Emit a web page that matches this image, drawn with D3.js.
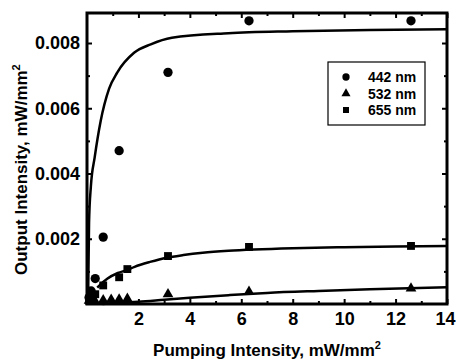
<!DOCTYPE html>
<html>
<head>
<meta charset="utf-8">
<script src="https://cdn.jsdelivr.net/npm/d3@7"></script>
<style>
    body { margin: 0; background: #fff; }
    svg { display: block; font-family: "Liberation Sans", Arial, sans-serif; }
    .tickLabels text { font-size: 18px; font-weight: bold; }
</style>
</head>
<body>
<div id="chart"></div>
<script>
// measured points, 442 nm (circles)
const pump442 = [0.08, 0.16, 0.32, 0.63, 1.25, 3.15, 6.3, 12.6];
const out442 = [0.0002, 0.0004, 0.00078, 0.00205, 0.0047, 0.0071, 0.00868, 0.00868];

// 532 nm (triangles)
const pump532 = [0.08, 0.16, 0.32, 0.63, 0.94, 1.25, 1.57, 3.15, 6.3, 12.6];
const out532 = [0.0001, 0.00012, 0.00008, 0.00012, 0.00013, 0.00014, 0.00016, 0.0003, 0.00038, 0.00048];

// 655 nm (squares)
const pump655 = [0.08, 0.16, 0.32, 0.63, 1.25, 1.57, 3.15, 6.3, 12.6];
const out655 = [0.0001, 0.0002, 0.0003, 0.00057, 0.00082, 0.00107, 0.00147, 0.00175, 0.00178];

// fitted curves
const fitX442 = [0.04, 0.08, 0.15, 0.3, 0.53, 0.86, 1.18, 1.83, 2.48, 3.3, 5.5, 8, 11, 14];
const fitY442 = [0, 0.0025, 0.0036, 0.0045, 0.0056, 0.0066, 0.0071, 0.0077, 0.00796, 0.00816, 0.0083, 0.00836, 0.0084, 0.00842];
const fitX655 = [0.4, 0.5, 0.8, 1.2, 1.55, 1.85, 2.45, 3.1, 3.75, 4.5, 5.5, 6.5, 8, 10, 12, 14];
const fitY655 = [0.0005, 0.00058, 0.00078, 0.00095, 0.00104, 0.00114, 0.00129, 0.00142, 0.0015, 0.00157, 0.00163, 0.00167, 0.00171, 0.00174, 0.00176, 0.00178];
const fitX532 = [0.6, 1, 2, 3, 4, 5.5, 7, 9, 11, 14];
const fitY532 = [0, 0.00003, 0.00007, 0.00013, 0.00019, 0.00027, 0.00034, 0.0004, 0.00045, 0.00051];

// ticks
const xMajor = [2, 4, 6, 8, 10, 12, 14];
const xMinor = [1, 3, 5, 7, 9, 11, 13];
const yMajor = [0.002, 0.004, 0.006, 0.008];
const yMinor = [0.001, 0.003, 0.005, 0.007];

const legendLabels = ['442 nm', '532 nm', '655 nm'];
const legendShapes = ['circle', 'triangle', 'square'];

function outputChart() {
    const W = 456, H = 360;
    const margin = {top: 13, right: 9, bottom: 56, left: 87};
    const width = W - margin.left - margin.right;
    const height = H - margin.top - margin.bottom;

    const svg = d3.select("#chart")
        .append("svg")
        .attr("width", W)
        .attr("height", H)
        .append("g")
        .attr("transform", `translate(${margin.left}, ${margin.top})`);

    const x = d3.scaleLinear().domain([0, 14]).range([0, width]);
    const y = d3.scaleLinear().domain([0, 0.00892]).range([height, 0]);

    // axes - ticks point inward
    const xAxisG = svg.append("g").attr("class", "tickLabels")
        .attr("transform", `translate(0, ${height})`)
        .call(d3.axisBottom(x).tickValues(xMajor).tickSize(-5).tickPadding(8).tickFormat(d3.format("d")));
    // last label would run off the page, pull it in a little
    xAxisG.selectAll(".tick text").filter(d => d == 14)
        .attr("text-anchor", "end")
        .attr("x", margin.right - 1);
    svg.append("g")
        .attr("transform", `translate(0, ${height})`)
        .call(d3.axisBottom(x).tickValues(xMinor).tickSize(-3).tickFormat(''));
    svg.append("g")
        .call(d3.axisTop(x).tickValues(xMajor).tickSize(-5).tickFormat(''));
    svg.append("g")
        .call(d3.axisTop(x).tickValues(xMinor).tickSize(-3).tickFormat(''));

    svg.append("g").attr("class", "tickLabels")
        .call(d3.axisLeft(y).tickValues(yMajor).tickSize(-5).tickPadding(7).tickFormat(d3.format(".3f")));
    svg.append("g")
        .call(d3.axisLeft(y).tickValues(yMinor).tickSize(-3).tickFormat(''));
    svg.append("g")
        .attr("transform", `translate(${width}, 0)`)
        .call(d3.axisRight(y).tickValues(yMajor).tickSize(-5).tickFormat(''));
    svg.append("g")
        .attr("transform", `translate(${width}, 0)`)
        .call(d3.axisRight(y).tickValues(yMinor).tickSize(-3).tickFormat(''));

    svg.selectAll(".domain").remove();
    svg.selectAll(".tick line").attr("stroke", "#000").attr("stroke-width", 2);
    svg.selectAll(".tick text").attr("fill", "#000");

    // fitted curves
    const line = d3.line().x(d => x(d[0])).y(d => y(d[1])).curve(d3.curveMonotoneX);
    const fits = [
        d3.zip(fitX442, fitY442),
        d3.zip(fitX532, fitY532),
        d3.zip(fitX655, fitY655)
    ];
    svg.selectAll(".fitLine")
        .data(fits)
        .join("path")
        .attr("class", "fitLine")
        .attr("d", line)
        .attr("fill", "none")
        .attr("stroke", "#000")
        .attr("stroke-width", 2.5);

    // markers
    const symbolFor = {
        circle: d3.symbol().type(d3.symbolCircle).size(68),
        triangle: d3.symbol().type(d3.symbolTriangle).size(50),
        square: d3.symbol().type(d3.symbolSquare).size(62)
    };
    const series = [
        {shape: 'circle', pts: d3.zip(pump442, out442)},
        {shape: 'triangle', pts: d3.zip(pump532, out532)},
        {shape: 'square', pts: d3.zip(pump655, out655)}
    ];
    series.forEach(function(s) {
        svg.selectAll(".pt-" + s.shape)
            .data(s.pts)
            .join("path")
            .attr("class", "pt-" + s.shape)
            .attr("transform", d => `translate(${x(d[0])}, ${y(d[1])})`)
            .attr("d", symbolFor[s.shape]())
            .attr("fill", "#000");
    });

    // frame
    svg.append("rect")
        .attr("width", width)
        .attr("height", height)
        .attr("fill", "none")
        .attr("stroke", "#000")
        .attr("stroke-width", 3);

    // legend
    const legend = svg.append("g").attr("transform", `translate(${328 - margin.left}, ${62 - margin.top})`);
    legend.append("rect")
        .attr("width", 97)
        .attr("height", 63)
        .attr("fill", "#fff")
        .attr("stroke", "#000")
        .attr("stroke-width", 1.2);
    const legendSym = {
        circle: d3.symbol().type(d3.symbolCircle).size(42),
        triangle: d3.symbol().type(d3.symbolTriangle).size(36),
        square: d3.symbol().type(d3.symbolSquare).size(36)
    };
    legendLabels.forEach(function(lab, i) {
        const ly = 15 + i * 16.5;
        legend.append("path")
            .attr("transform", `translate(18, ${ly})`)
            .attr("d", legendSym[legendShapes[i]]())
            .attr("fill", "#000");
        legend.append("text")
            .attr("x", 40)
            .attr("y", ly + 5)
            .style("font-size", "14px")
            .style("font-weight", "bold")
            .text(lab);
    });

    // axis titles
    const xt = svg.append("text")
        .attr("x", width / 2)
        .attr("y", height + 52)
        .style("text-anchor", "middle")
        .style("font-size", "17px")
        .style("font-weight", "bold");
    xt.append("tspan").text("Pumping Intensity, mW/mm");
    xt.append("tspan").attr("dy", -7).style("font-size", "11px").text("2");

    const yt = svg.append("text")
        .attr("transform", `translate(${27 - margin.left}, ${275 - margin.top}) rotate(-90)`)
        .style("text-anchor", "start")
        .style("font-size", "17px")
        .style("font-weight", "bold");
    yt.append("tspan").text("Output Intensity, mW/mm");
    yt.append("tspan").attr("dy", -7).style("font-size", "11px").text("2");
}

function main() {
    outputChart();
}

main();
</script>
</body>
</html>
